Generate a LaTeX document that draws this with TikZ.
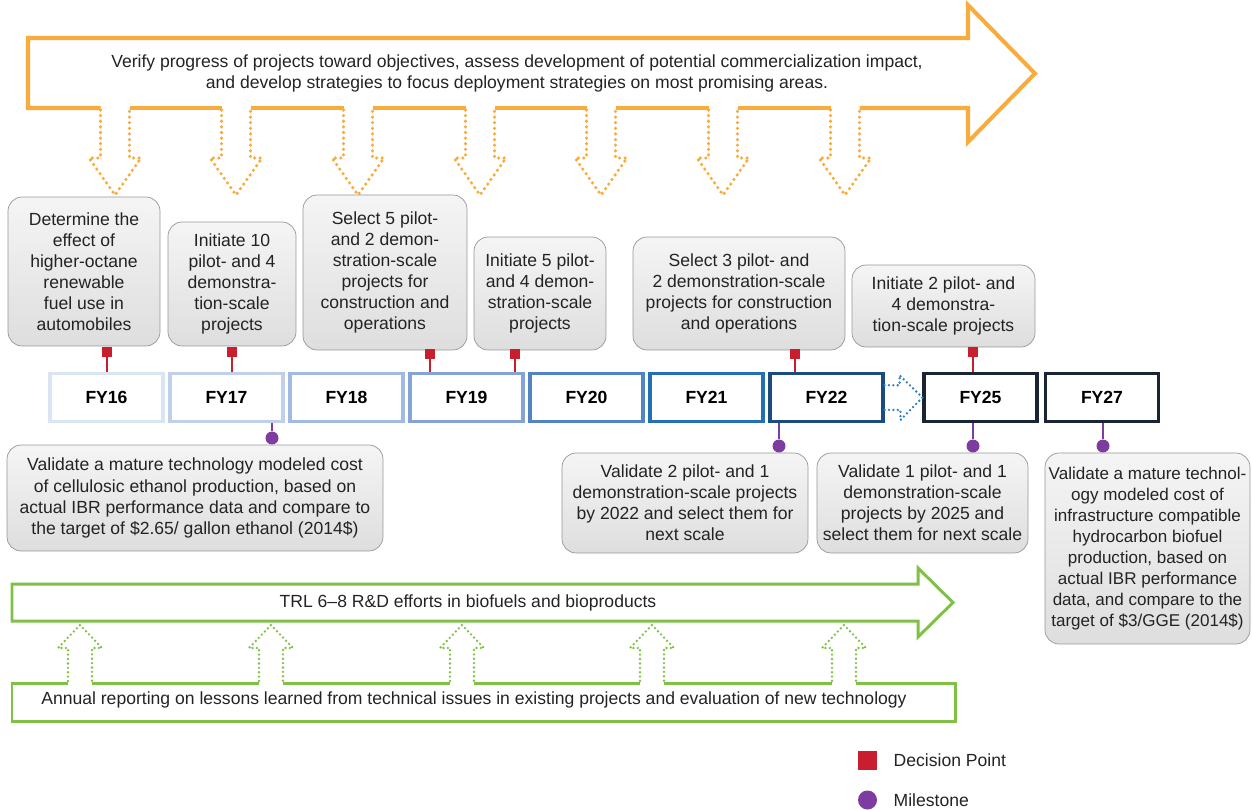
\documentclass[tikz,border=0pt]{standalone}
\usepackage{fontspec}
\setmainfont{Liberation Sans}
\usetikzlibrary{positioning,calc}
\definecolor{planOrange}{RGB}{248,172,62}
\definecolor{trlGreen}{RGB}{128,192,70}
\definecolor{decRed}{RGB}{200,30,45}
\definecolor{msPurple}{RGB}{125,60,160}
\definecolor{noteGray}{RGB}{150,150,150}
\definecolor{noteText}{RGB}{35,35,35}
\definecolor{gapBlue}{RGB}{45,127,193}
\definecolor{fyA}{RGB}{218,228,243}
\definecolor{fyB}{RGB}{192,208,235}
\definecolor{fyC}{RGB}{162,186,225}
\definecolor{fyD}{RGB}{132,164,213}
\definecolor{fyE}{RGB}{82,132,196}
\definecolor{fyF}{RGB}{36,112,182}
\definecolor{fyG}{RGB}{26,76,126}
\definecolor{fyH}{RGB}{26,36,52}

\begin{document}
\begin{tikzpicture}[x=0.02cm,y=-0.02cm,font=\fontsize{10}{12}\selectfont,text=noteText,
        note/.style={draw=noteGray,rounded corners=8pt,top color=black!4,bottom color=black!13,
                     align=center,inner sep=2pt},
        fy/.style={fill=white,line width=1.8pt,minimum width=2.26cm,minimum height=0.96cm,
                   text=black,font=\fontsize{10}{12}\selectfont\bfseries},
        dp/.style={fill=decRed,minimum size=0.2cm,inner sep=0pt},
        ms/.style={circle,fill=msPurple,minimum size=0.26cm,inner sep=0pt},
        dpline/.style={decRed,line width=1.6pt},
        msline/.style={msPurple,line width=1.6pt},
        planarrow/.style={planOrange,line width=2.3pt},
        trlarrow/.style={trlGreen,line width=1.7pt},
        dots/.style={line width=2pt,line cap=round,dash pattern=on 0pt off 3.2pt},
        smalldots/.style={line width=1.5pt,line cap=round,dash pattern=on 0pt off 2.5pt}]
  \useasboundingbox (0,0) rectangle (1252,809);

  \draw[planarrow] (100.5,108) -- (28,108) -- (28,38) -- (968,38) -- (968,5) -- (1035,73.5)
        -- (968,142) -- (968,108) -- (859.5,108);
  \foreach \a/\b in {129.5/221.5,250.5/343.5,372.5/465.5,494.5/586.5,615.5/708.5,737.5/830.5}
    \draw[planarrow] (\a,108) -- (\b,108);
  \node[align=center] (verify) at (517,73) {Verify progress of projects toward objectives, assess development of potential commercialization impact,\\
    and develop strategies to focus deployment strategies on most promising areas.};
  \foreach \c in {115,236,358,480,601,723,845}
    \draw[dots,planOrange] (\c-14.5,110) -- (\c-14.5,158) -- (\c-26,158) -- (\c,195)
          -- (\c+26,158) -- (\c+14.5,158) -- (\c+14.5,110);

  \foreach \y/\c [count=\i from 0] in {16/fyA,17/fyB,18/fyC,19/fyD,20/fyE,21/fyF,22/fyG}
    \node[fy,draw=\c] (fy\y) at (106.5+120*\i,397.5) {FY\y};
  \node[fy,draw=fyH] (fy25) at (980.5,397.5) {FY25};
  \node[fy,draw=fyH] (fy27) at (1102,397.5) {FY27};
  \draw[smalldots,gapBlue] ([yshift=7pt]fy22.east) -- ++(15,0) -- ++(0,-10) -- (fy25.west)
        -- ++(-22,22.5) -- ++(0,-10) -- ([yshift=-7pt]fy22.east);

  \node[note,minimum width=3.04cm,minimum height=2.98cm] (effect) at (84,271.5)
    {Determine the\\effect of\\higher-octane\\renewable\\fuel use in\\automobiles};
  \node[note,minimum width=2.56cm,minimum height=2.48cm] (init10) at (232,284)
    {Initiate 10\\pilot- and 4\\demonstra-\\tion-scale\\projects};
  \node[note,minimum width=3.28cm,minimum height=3.1cm] (sel5) at (385,272.5)
    {Select 5 pilot-\\and 2 demon-\\stration-scale\\projects for\\construction and\\operations};
  \node[note,minimum width=2.64cm,minimum height=2.26cm] (init5) at (540,293.5)
    {Initiate 5 pilot-\\and 4 demon-\\stration-scale\\projects};
  \node[note,minimum width=4.24cm,minimum height=2.26cm] (sel3) at (739,293.5)
    {Select 3 pilot- and\\2 demonstration-scale\\projects for construction\\and operations};
  \node[note,minimum width=3.66cm,minimum height=1.64cm] (init2) at (943.5,306)
    {Initiate 2 pilot- and\\4 demonstra-\\tion-scale projects};

  \foreach \n/\x/\y/\t in {1/107/352/fy16,2/232/352/fy17,3/430/354/fy19,4/515/354/fy19,
                           5/795/354/fy22,6/973/352/fy25}{
    \node[dp] (dp\n) at (\x,\y) {};
    \draw[dpline] (dp\n) -- (dp\n |- \t.north);
  }
  \foreach \n/\x/\y/\t in {1/272/438/fy17,2/779/446/fy22,3/973/446/fy25,4/1103/446/fy27}{
    \node[ms] (ms\n) at (\x,\y) {};
    \draw[msline] (ms\n) -- (ms\n |- \t.south);
  }

  \node[note,minimum width=7.52cm,minimum height=2.12cm] (ethanol) at (195,498)
    {Validate a mature technology modeled cost\\of cellulosic ethanol production, based on\\
     actual IBR performance data and compare to\\the target of \$2.65/ gallon ethanol (2014\$)};
  \node[note,minimum width=4.92cm,minimum height=2cm] (val2022) at (685,503)
    {Validate 2 pilot- and 1\\demonstration-scale projects\\by 2022 and select them for\\next scale};
  \node[note,minimum width=4.22cm,minimum height=2cm] (val2025) at (922.5,503)
    {Validate 1 pilot- and 1\\demonstration-scale\\projects by 2025 and\\select them for next scale};
  \node[note,minimum width=4.1cm,minimum height=3.82cm,font=\fontsize{9.7}{12}\selectfont] (hydro) at (1147.5,548.5)
    {Validate a mature technol-\\ogy modeled cost of\\infrastructure compatible\\hydrocarbon biofuel\\
     production, based on\\actual IBR performance\\data, and compare to the\\target of \$3/GGE (2014\$)};

  \draw[trlarrow] (12,584) -- (918,584) -- (918,568) -- (953,602.5) -- (918,637) -- (918,621)
        -- (12,621) -- cycle;
  \node (trl) at (468,603) {TRL 6--8 R\&D efforts in biofuels and bioproducts};
  \draw[trlarrow] (68,683) -- (12,683) -- (12,721) -- (955,721) -- (955,683) -- (856,683);
  \foreach \a/\b in {92/259,283/450,474/640,664/832}
    \draw[trlarrow] (\a,683) -- (\b,683);
  \node (annual) at (474,700) {Annual reporting on lessons learned from technical issues in existing projects and evaluation of new technology};
  \foreach \c in {80,271,462,652,844}
    \draw[smalldots,trlGreen] (\c-12,681) -- (\c-12,648) -- (\c-22,648) -- (\c,625)
          -- (\c+22,648) -- (\c+12,648) -- (\c+12,681);

  \node[dp,minimum size=0.38cm] (keydp) at (867.5,760.5) {};
  \node[inner sep=0pt,right=0.32cm of keydp] (keydptext) {Decision Point};
  \node[ms,minimum size=0.38cm] (keyms) at (867.5,800) {};
  \node[inner sep=0pt,right=0.32cm of keyms] (keymstext) {Milestone};
\end{tikzpicture}
\end{document}
